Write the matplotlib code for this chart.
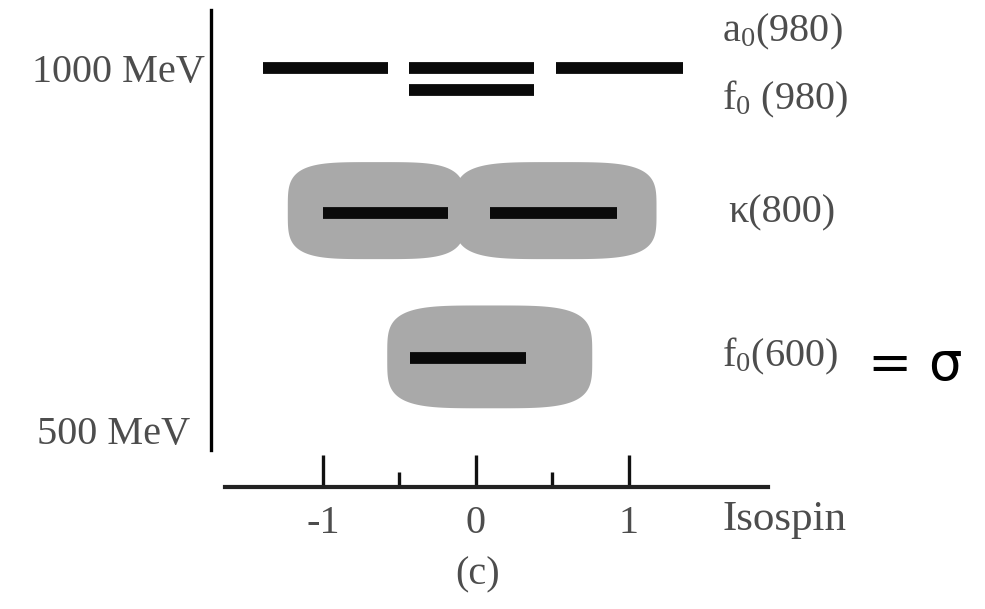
import numpy as np
import matplotlib.pyplot as plt
from matplotlib.transforms import ScaledTranslation

plt.rcParams['font.family'] = ['Liberation Serif', 'DejaVu Serif']
plt.rcParams['mathtext.fontset'] = 'custom'
plt.rcParams['mathtext.rm'] = 'Liberation Serif'

# level bars: (isospin start, isospin end, mass in MeV)
a0_start = [-1.39, -0.44, 0.52]
a0_end = [-0.575, 0.38, 1.35]
a0_mass = 1000
f0980_start = [-0.44]
f0980_end = [0.38]
f0980_mass = 970
kappa_start = [-1.0, 0.09]
kappa_end = [-0.18, 0.92]
kappa_mass = 800
sigma_start = [-0.43]
sigma_end = [0.33]
sigma_mass = 600

# broad resonance regions: centre isospin, half width, centre mass, half width (MeV)
blob_cx = [-0.65, 0.52, 0.09]
blob_ax = [0.58, 0.66, 0.67]
blob_cy = [803, 803, 601]
blob_by = [67, 67, 71]

labels = [r'a$\mathregular{_0}$(980)', r'f$\mathregular{_0}$ (980)', 'κ(800)', r'f$\mathregular{_0}$(600)']
label_mass = [1050, 956, 800, 601]
label_x = [1.61, 1.61, 1.65, 1.61]

mass_ticks = [500, 1000]
mass_ticklabels = ['500 MeV', '1000 MeV']
iso_ticks = [-1, 0, 1]
iso_minor = [-0.5, 0.5]

txt = '#4d4d4d'
fs = 29

fig = plt.figure(figsize=(9.85, 6.09), dpi=100)
ax = fig.add_axes([0, 0, 1, 1])
ax.set_xlim(-3.111, 3.327)
ax.set_ylim(252.8, 1093.9)

t = np.linspace(0, 2 * np.pi, 300)
n = 4
for cx, a, cy, b in zip(blob_cx, blob_ax, blob_cy, blob_by):
    xs = cx + a * np.sign(np.cos(t)) * np.abs(np.cos(t)) ** (2 / n)
    ys = cy + b * np.sign(np.sin(t)) * np.abs(np.sin(t)) ** (2 / n)
    ax.fill(xs, ys, color='#a9a9a9', lw=0, zorder=1)

for s, e, m in [(a0_start, a0_end, a0_mass), (f0980_start, f0980_end, f0980_mass),
                (kappa_start, kappa_end, kappa_mass), (sigma_start, sigma_end, sigma_mass)]:
    ax.hlines([m] * len(s), s, e, colors='#0a0a0a', lw=8.5, zorder=3)

for lab, m, x in zip(labels, label_mass, label_x):
    ax.text(x, m, lab, fontsize=fs, color=txt, va='center', ha='left')
ax.text(2.56, 590, '= σ', fontsize=38, color='black', va='center', ha='left',
        family='DejaVu Sans')
ax.text(1.61, 376, 'Isospin', fontsize=31, color=txt, va='center', ha='left')
ax.text(0.01, 300, '(c)', fontsize=fs, color=txt, va='center', ha='center')

for side in ['top', 'right']:
    ax.spines[side].set_visible(False)
ax.spines['left'].set_position(('data', -1.732))
ax.spines['left'].set_bounds(472, 1080)
ax.spines['left'].set_linewidth(2.4)
ax.spines['bottom'].set_position(('data', 421.3))
ax.spines['bottom'].set_bounds(-1.64, 1.91)
ax.spines['bottom'].set_linewidth(3)
ax.spines['bottom'].set_color('#222222')

ax.set_yticks(mass_ticks)
ax.set_yticklabels(mass_ticklabels)
ax.tick_params(axis='y', length=0, pad=4, labelsize=fs, labelcolor=txt)
off = ScaledTranslation(-0.15, 0, fig.dpi_scale_trans)
ax.get_yticklabels()[0].set_transform(ax.get_yticklabels()[0].get_transform() + off)

ax.set_xticks(iso_ticks)
ax.set_xticklabels(['-1', '0', '1'])
ax.set_xticks(iso_minor, minor=True)
ax.tick_params(axis='x', which='major', direction='in', length=23, width=2.4,
               pad=13, labelsize=fs, labelcolor=txt, color='#111111')
ax.tick_params(axis='x', which='minor', direction='in', length=11, width=2.4,
               color='#111111')
ax.patch.set_alpha(0)

fig.savefig('out.png', dpi=100)
